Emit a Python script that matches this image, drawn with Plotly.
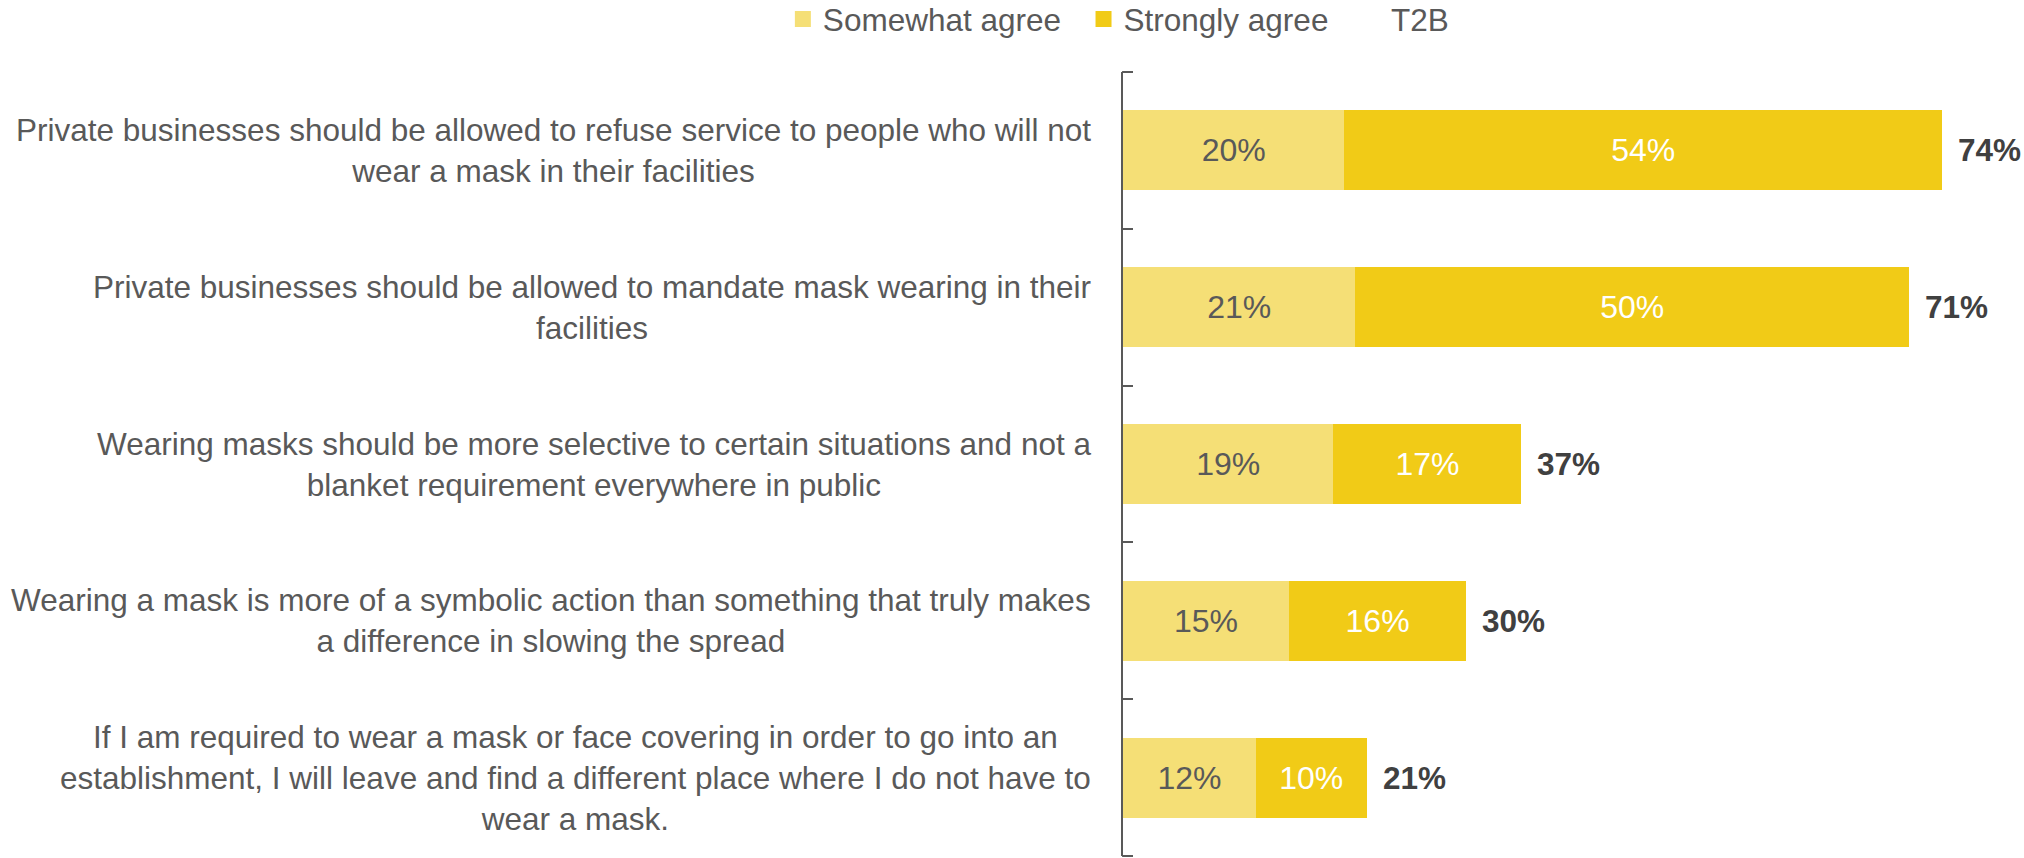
import plotly.graph_objects as go

categories = [
    "Private businesses should be allowed to refuse service to people who will not<br>wear a mask in their facilities",
    "Private businesses should be allowed to mandate mask wearing in their<br>facilities",
    "Wearing masks should be more selective to certain situations and not a<br>blanket requirement everywhere in public",
    "Wearing a mask is more of a symbolic action than something that truly makes<br>a difference in slowing the spread",
    "If I am required to wear a mask or face covering in order to go into an<br>establishment, I will leave and find a different place where I do not have to<br>wear a mask.",
]
series_names = ["Somewhat agree", "Strongly agree", "T2B"]
somewhat_agree = [20, 21, 19, 15, 12]
strongly_agree = [54, 50, 17, 16, 10]
t2b = [74, 71, 37, 30, 21]

FONT = "Liberation Sans, Arial, sans-serif"
FS = 31.5
LIGHT = "#F5DF76"
DARK = "#F1CB17"
GREY = "#595959"
NB = "\u00a0\u00a0"

fig = go.Figure()
fig.add_trace(go.Bar(
    name=series_names[0], y=categories, x=somewhat_agree, orientation="h",
    marker=dict(color=LIGHT, line=dict(width=0)), showlegend=False,
    text=[f"{v}%" for v in somewhat_agree], textposition="inside",
    insidetextanchor="middle", textangle=0, constraintext="none",
    textfont=dict(family=FONT, size=32, color=GREY),
))
fig.add_trace(go.Bar(
    name=series_names[1], y=categories, x=strongly_agree, orientation="h",
    marker=dict(color=DARK, line=dict(width=0)), showlegend=False,
    text=[f"{v}%" for v in strongly_agree], textposition="inside",
    insidetextanchor="middle", textangle=0, constraintext="none",
    textfont=dict(family=FONT, size=32, color="white"),
))

# legend entries (square swatches)
for nm, col in zip(series_names, [LIGHT, DARK, "rgba(0,0,0,0)"]):
    fig.add_trace(go.Scatter(
        x=[None], y=[None], mode="markers", name=nm + (NB if nm != "T2B" else ""),
        marker=dict(symbol="square", size=16, color=col, line=dict(width=0)),
        hoverinfo="skip",
    ))

for cat, a, b, t in zip(categories, somewhat_agree, strongly_agree, t2b):
    # T2B label at the end of each stacked bar
    fig.add_annotation(
        x=a + b, y=cat, xref="x", yref="y", text=f"<b>{t}%</b>",
        showarrow=False, xanchor="left", xshift=14,
        font=dict(family=FONT, size=31.5, color="#404040"),
    )
    # category labels (centered multi-line text, right aligned block)
    fig.add_annotation(
        x=0, y=cat, xref="paper", yref="y", text=cat,
        showarrow=False, xanchor="right", xshift=-30, align="center",
        font=dict(family=FONT, size=FS, color=GREY),
    )

# end ticks of the category axis (top and bottom brackets)
for yy in (0, 1):
    fig.add_shape(
        type="line", xref="paper", yref="paper",
        x0=-0.001, x1=10 / 901, y0=yy, y1=yy,
        line=dict(color=GREY, width=2),
    )

fig.update_layout(
    width=2024, height=858,
    barmode="stack", bargap=0.49,
    margin=dict(l=1123, r=0, t=72, b=2, autoexpand=False),
    paper_bgcolor="white", plot_bgcolor="white",
    font=dict(family=FONT, size=FS, color=GREY),
    showlegend=True,
    legend=dict(
        orientation="h", x=-0.3775, xanchor="left",
        yref="paper", y=1.102, yanchor="top",
        font=dict(family=FONT, size=31.5, color=GREY),
        traceorder="normal", bgcolor="rgba(0,0,0,0)",
    ),
    xaxis=dict(visible=False, range=[0, 81.4], fixedrange=True),
    yaxis=dict(
        type="category", range=[4.5, -0.5], showticklabels=False,
        showline=True, linecolor=GREY, linewidth=2,
        ticks="inside", tickson="boundaries", ticklen=10,
        tickcolor=GREY, tickwidth=2, showgrid=False, zeroline=False,
    ),
)

fig.write_html(
    "out.html",
    config={"displayModeBar": False},
    post_script="document.body.style.margin='0';document.body.style.overflow='hidden';",
)
